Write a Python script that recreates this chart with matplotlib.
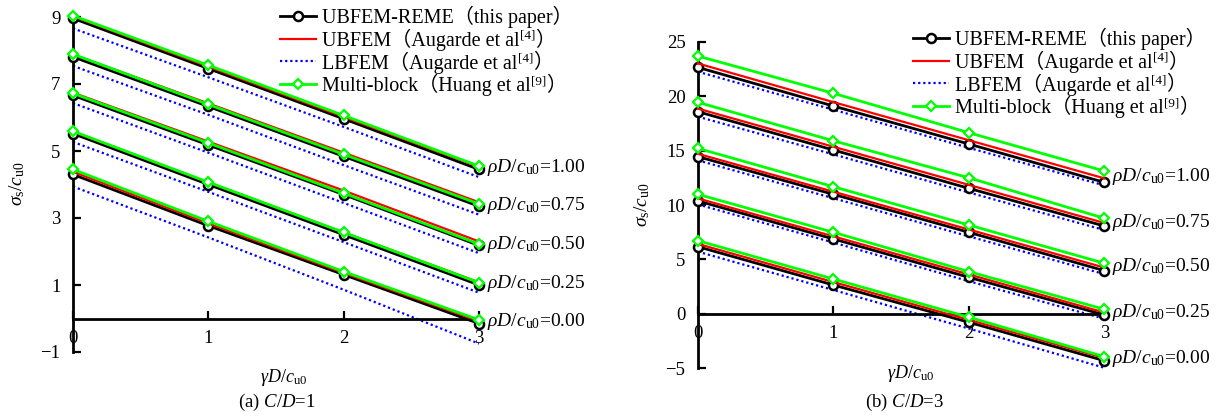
import numpy as np
import matplotlib
matplotlib.use('Agg')
import matplotlib.pyplot as plt
from matplotlib.font_manager import FontProperties

plt.rcParams['font.family'] = ['Liberation Serif', 'Noto Sans CJK SC']
plt.rcParams['mathtext.fontset'] = 'custom'
plt.rcParams['mathtext.rm'] = 'Liberation Serif'
plt.rcParams['mathtext.it'] = 'Liberation Serif:italic'
plt.rcParams['axes.unicode_minus'] = True

x = [0, 1, 2, 3]
rho_labels = ['1.00', '0.75', '0.50', '0.25', '0.00']
# legend text: (before superscript, superscript, after)
series_names = [(u'UBFEM-REME（this paper）', '', ''),
                (u'UBFEM（Augarde et al', '[4]', u'）'),
                (u'LBFEM（Augarde et al', '[4]', u'）'),
                (u'Multi-block（Huang et al', '[9]', u'）')]

# (a) C/D=1, one row per rho (1.00 .. 0.00)
a_reme = [[8.96, 7.46, 5.96, 4.45], [7.81, 6.33, 4.84, 3.35], [6.66, 5.18, 3.70, 2.18],
          [5.52, 4.00, 2.50, 1.00], [4.30, 2.77, 1.31, -0.15]]
a_ub = [[9.02, 7.52, 6.02, 4.53], [7.88, 6.42, 4.95, 3.47], [6.74, 5.28, 3.82, 2.30],
        [5.58, 4.06, 2.57, 1.08], [4.38, 2.84, 1.36, -0.08]]
a_lb = [[8.66, 7.20, 5.72, 4.22], [7.54, 6.08, 4.58, 3.10], [6.43, 4.95, 3.45, 1.95],
        [5.27, 3.78, 2.28, 0.77], [3.94, 2.42, 0.86, -0.75]]
a_mb = [[9.04, 7.56, 6.06, 4.55], [7.89, 6.39, 4.90, 3.42], [6.72, 5.24, 3.74, 2.22],
        [5.59, 4.07, 2.57, 1.07], [4.45, 2.90, 1.40, -0.04]]

# (b) C/D=3
b_reme = [[22.64, 19.09, 15.60, 12.08], [18.57, 15.05, 11.53, 8.07], [14.44, 10.98, 7.49, 3.97],
          [10.37, 6.88, 3.36, -0.10], [6.17, 2.65, -0.77, -4.30]]
b_ub = [[23.00, 19.45, 15.95, 12.45], [18.85, 15.35, 11.85, 8.35], [14.70, 11.22, 7.75, 4.25],
        [10.60, 7.12, 3.62, 0.12], [6.42, 2.92, -0.55, -4.05]]
b_lb = [[22.24, 18.75, 15.25, 11.80], [18.11, 14.65, 11.15, 7.70], [14.10, 10.62, 7.12, 3.65],
        [10.05, 6.55, 3.00, -0.45], [5.71, 2.19, -1.35, -4.95]]
b_mb = [[23.68, 20.26, 16.64, 13.12], [19.43, 15.90, 12.50, 8.78], [15.20, 11.68, 8.16, 4.65],
        [10.98, 7.49, 3.88, 0.42], [6.72, 3.20, -0.31, -3.93]]

W, H = 1223, 416
fig = plt.figure(figsize=(W / 100, H / 100), dpi=100)

def px(x0, y0, x1, y1):
    return [x0 / W, 1 - y1 / H, (x1 - x0) / W, (y1 - y0) / H]

def draw(ax, reme, ub, lb, mb, ylim, yticks):
    for i in range(len(rho_labels)):
        ax.plot(x, reme[i], color='black', lw=2, marker='o', ms=6.5, mfc='white', mec='black',
                mew=1.8, clip_on=False, zorder=3, label=series_names[0][0] if i == 0 else None)
        ax.plot(x, ub[i], color='#ff0000', lw=1.6, clip_on=False, zorder=4,
                label=series_names[1][0] if i == 0 else None)
        ax.plot(x, lb[i], color='#0000ff', lw=1.6, ls=(0, (1, 1.3)), clip_on=False, zorder=2,
                label=series_names[2][0] if i == 0 else None)
        ax.plot(x, mb[i], color='#00ff00', lw=2, marker='D', ms=5, mfc='white', mec='#00ff00',
                mew=1.6, clip_on=False, zorder=5, label=series_names[3][0] if i == 0 else None)
        yl = (reme[i][-1] + mb[i][-1]) / 2
        ax.text(3.06, yl, r'$\rho D/c_\mathrm{u0}$=' + rho_labels[i], fontsize=14,
                va='center', ha='left')
    ax.set_xlim(0, 3)
    ax.set_ylim(*ylim)
    ax.set_xticks(x)
    ax.set_yticks(yticks)
    for s in ['top', 'right']:
        ax.spines[s].set_visible(False)
    ax.spines['bottom'].set_position(('data', 0))
    ax.spines['left'].set_linewidth(2)
    ax.spines['bottom'].set_linewidth(2)
    ax.tick_params(direction='in', length=6, width=1.6, labelsize=13.5)
    ax.tick_params(axis='x', pad=8)
    ax.tick_params(axis='y', pad=9)
    ax.patch.set_visible(False)

ax1 = fig.add_axes(px(73, 17, 479, 352))
draw(ax1, a_reme, a_ub, a_lb, a_mb, (-1, 9), [-1, 1, 3, 5, 7, 9])
ax2 = fig.add_axes(px(698, 41.7, 1104.3, 368.3))
draw(ax2, b_reme, b_ub, b_lb, b_mb, (-5, 25), [-5, 0, 5, 10, 15, 20, 25])

fam = ['Liberation Serif', 'Noto Sans CJK SC']
leg_size = 14.5
leg_font = FontProperties(family=fam, size=leg_size)
legs = []
for ax, lx, ly in [(ax1, 280, 6), (ax2, 913, 28)]:
    leg = ax.legend(loc='upper left', bbox_to_anchor=(lx / W, 1 - ly / H),
                    bbox_transform=fig.transFigure, frameon=False, prop=leg_font,
                    handlelength=1.8, handletextpad=0.3, borderpad=0, borderaxespad=0,
                    labelspacing=0.02)
    legs.append(leg)

# superscript refs and closing brackets after the legend texts
fig.canvas.draw()
rend = fig.canvas.get_renderer()
for leg in legs:
    for t, (pre, sup, post) in zip(leg.get_texts(), series_names):
        if not sup:
            continue
        bb = t.get_window_extent(rend)
        bx, by = t.get_transform().transform(t.get_position())
        s = fig.text(bb.x1 / W, (by + 7) / H, sup, fontsize=leg_size * 0.65,
                     family=fam, va='baseline', ha='left')
        sb = s.get_window_extent(rend)
        fig.text(sb.x1 / W, by / H, post, fontsize=leg_size, family=fam,
                 va='baseline', ha='left')

fig.text(17 / W, 1 - 184 / H, r'$\sigma_\mathrm{s}/c_\mathrm{u0}$', rotation=90,
         fontsize=14, ha='center', va='center')
fig.text(642 / W, 1 - 205 / H, r'$\sigma_\mathrm{s}/c_\mathrm{u0}$', rotation=90,
         fontsize=14, ha='center', va='center')
fig.text(284 / W, 1 - 377 / H, r'$\gamma D/c_\mathrm{u0}$', fontsize=13, ha='center', va='center')
fig.text(911 / W, 1 - 373 / H, r'$\gamma D/c_\mathrm{u0}$', fontsize=13, ha='center', va='center')
fig.text(277 / W, 1 - 402 / H, r'(a) $C/D$=1', fontsize=13.5, ha='center', va='center')
fig.text(905 / W, 1 - 402 / H, r'(b) $C/D$=3', fontsize=13.5, ha='center', va='center')

plt.savefig('out.png', dpi=100)
